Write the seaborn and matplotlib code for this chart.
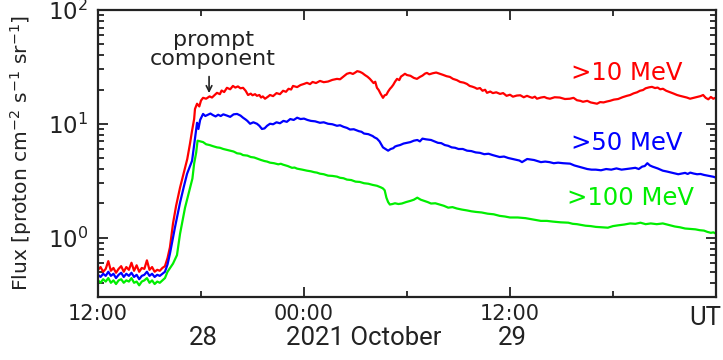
import matplotlib
matplotlib.use('Agg')
import matplotlib.pyplot as plt
import seaborn as sns
import numpy as np
import pandas as pd
from matplotlib.ticker import FixedLocator, LogLocator, NullFormatter

# ---------------- data (hours since 2021-10-28 12:00 UT, flux) ----------------
red_hours = [0.0, 0.15, 0.3, 0.45, 0.6, 0.75, 0.9, 1.05, 1.2, 1.35, 1.5, 1.65, 1.8, 1.95,
             2.1, 2.25, 2.4, 2.55, 2.7, 2.85, 3.0, 3.15, 3.3, 3.45, 3.6, 3.75, 3.9,
             4.05, 4.19, 4.37, 4.55, 4.78, 5.07, 5.2, 5.36, 5.48, 5.6, 5.65, 5.77, 5.9,
             6.0, 6.12, 6.3, 6.5, 6.64, 6.8, 6.93, 7.1, 7.2, 7.35, 7.51, 7.7, 7.86, 8.0,
             8.15, 8.3, 8.45, 8.6, 8.74, 8.9, 9.0, 9.15, 9.26, 9.4, 9.5, 9.6, 9.73, 9.9,
             10.02, 10.2, 10.4, 10.6, 10.78, 10.95, 11.1, 11.25, 11.36, 11.6, 11.8, 12.0,
             12.17, 12.35, 12.5, 12.7, 12.93, 13.15, 13.4, 13.65, 13.92, 14.1, 14.3, 14.5,
             14.68, 14.85, 15.0, 15.1, 15.26, 15.4, 15.55, 15.7, 15.84, 16.05, 16.15, 16.25,
             16.35, 16.45, 16.6, 16.7, 16.8, 16.9, 17.01, 17.1, 17.2, 17.3, 17.42, 17.55,
             17.65, 17.75, 17.88, 18.0, 18.2, 18.4, 18.58, 18.75, 18.9, 19.05, 19.16, 19.3,
             19.5, 19.7, 19.92, 20.1, 20.3, 20.5, 20.68, 20.9, 21.1, 21.3, 21.49, 21.65,
             21.8, 21.95, 22.08, 22.25, 22.4, 22.55, 22.66, 22.85, 23.0, 23.2, 23.42, 23.6,
             23.8, 24.0, 24.17, 24.4, 24.6, 24.8, 24.99, 25.15, 25.3, 25.45, 25.57, 25.8,
             26.0, 26.15, 26.33, 26.6, 26.9, 27.2, 27.49, 27.7, 27.9, 28.1, 28.25, 28.5,
             28.7, 28.9, 29.07, 29.25, 29.45, 29.65, 29.82, 30.05, 30.3, 30.55, 30.81, 31.0,
             31.2, 31.4, 31.57, 31.75, 31.9, 32.1, 32.27, 32.45, 32.6, 32.75, 32.91, 33.1,
             33.3, 33.5, 33.73, 33.9, 34.1, 34.3, 34.49, 34.7, 34.9, 35.1, 35.25, 35.4,
             35.55, 35.7, 35.84, 36.0]
red_flux = [0.52, 0.55, 0.50, 0.53, 0.62, 0.51, 0.54, 0.49, 0.53, 0.56, 0.50, 0.55, 0.52, 0.60,
            0.51, 0.57, 0.50, 0.54, 0.53, 0.63, 0.52, 0.55, 0.50, 0.52, 0.51, 0.54, 0.56,
            0.66, 0.82, 1.33, 1.9, 2.75, 4.1, 4.9, 6.7, 8.7, 11.0, 13.5, 15.0, 14.2,
            16.0, 16.9, 16.6, 17.4, 17.0, 17.9, 18.7, 18.2, 19.6, 19.0, 20.7, 20.1, 21.5, 20.8,
            21.3, 20.5, 20.7, 19.5, 17.9, 18.4, 17.8, 18.2, 17.6, 17.9, 17.0, 17.4, 16.6, 17.3,
            17.9, 17.5, 18.6, 18.2, 19.5, 19.1, 20.3, 20.0, 21.5, 21.0, 21.9, 22.4,
            22.9, 22.3, 23.3, 22.8, 23.8, 23.2, 23.5, 24.3, 24.8, 24.6, 26.0, 27.5,
            28.0, 27.4, 28.3, 29.0, 28.6, 27.9, 26.8, 25.9, 24.8, 22.8, 23.4, 20.7,
            19.8, 18.5, 16.9, 17.8, 18.0, 19.2, 20.3, 21.0, 22.0, 23.4, 24.8, 24.2,
            26.0, 26.6, 27.5, 26.8, 26.4, 25.3, 24.8, 25.8, 26.5, 27.6, 28.0, 27.2,
            27.8, 28.2, 27.5, 26.9, 26.2, 25.8, 24.8, 24.2, 23.3, 23.0, 22.4, 21.5,
            21.2, 20.8, 20.3, 20.6, 19.5, 19.9, 18.7, 19.2, 18.6, 18.9, 18.3, 18.6,
            17.6, 18.0, 17.3, 17.7, 17.8, 17.1, 17.6, 17.2, 16.9, 17.3, 16.6, 17.0,
            17.2, 16.8, 16.6, 17.1, 17.0, 16.5, 16.6, 16.9, 16.1, 15.9, 15.6, 15.9,
            15.4, 15.2, 15.0, 15.5, 15.4, 15.7, 15.9, 16.3, 16.5, 17.1, 17.6, 17.9,
            18.5, 18.9, 19.5, 19.8, 20.5, 20.9, 21.1, 20.6, 20.8, 20.1, 20.3, 19.5,
            19.0, 18.5, 17.9, 17.6, 17.3, 17.0, 16.6, 16.9, 17.2, 17.5, 17.9, 16.9,
            16.4, 17.2, 16.6, 17.0]

blue_hours = [0.0, 0.15, 0.3, 0.45, 0.6, 0.75, 0.9, 1.05, 1.2, 1.35, 1.5, 1.65, 1.8, 1.95,
              2.1, 2.25, 2.4, 2.55, 2.7, 2.85, 3.0, 3.15, 3.3, 3.45, 3.6, 3.75, 3.9,
              4.05, 4.19, 4.48, 4.78, 5.0, 5.19, 5.48, 5.6, 5.7, 5.77, 5.85, 5.95,
              6.12, 6.25, 6.4, 6.55, 6.7, 6.85, 7.0, 7.15, 7.3, 7.51, 7.7, 7.9, 8.1, 8.3,
              8.45, 8.6, 8.7, 8.86, 9.05, 9.26, 9.4, 9.55, 9.7, 9.85, 10.02, 10.2, 10.4,
              10.6, 10.8, 11.0, 11.2, 11.4, 11.6, 11.8, 12.0, 12.2, 12.4, 12.65, 12.93,
              13.15, 13.4, 13.65, 13.92, 14.1, 14.3, 14.5, 14.68, 14.9, 15.2, 15.35, 15.5,
              15.75, 16.0, 16.1, 16.25, 16.4, 16.5, 16.6, 16.75, 16.9, 17.05, 17.2, 17.3,
              17.42, 17.6, 17.8, 18.0, 18.2, 18.4, 18.6, 18.75, 18.9, 19.1, 19.4, 19.6,
              19.8, 20.0, 20.2, 20.4, 20.6, 20.8, 21.0, 21.25, 21.5, 21.75, 22.0, 22.25,
              22.5, 22.75, 23.0, 23.2, 23.4, 23.65, 23.9, 24.15, 24.4, 24.55, 24.7, 24.85,
              25.0, 25.2, 25.4, 25.6, 25.8, 26.05, 26.3, 26.55, 26.8, 27.1, 27.5, 27.75,
              28.0, 28.25, 28.5, 28.75, 29.0, 29.3, 29.6, 29.9, 30.2, 30.5, 30.8, 31.05,
              31.3, 31.5, 31.7, 31.85, 32.0, 32.15, 32.3, 32.6, 32.9, 33.15, 33.4, 33.6,
              33.8, 34.0, 34.2, 34.35, 34.5, 34.7, 34.9, 35.1, 35.3, 35.5, 35.7, 35.85, 36.0]
blue_flux = [0.47, 0.45, 0.48, 0.46, 0.50, 0.46, 0.48, 0.44, 0.47, 0.49, 0.45, 0.48, 0.46, 0.49,
             0.45, 0.47, 0.43, 0.46, 0.47, 0.50, 0.46, 0.48, 0.45, 0.47, 0.46, 0.48, 0.50,
             0.58, 0.72, 1.22, 2.03, 2.8, 3.64, 4.73, 6.5, 8.5, 10.2, 9.0, 10.8,
             12.2, 11.7, 12.0, 12.3, 11.9, 11.6, 12.0, 11.7, 12.1, 11.8, 11.5, 12.1, 12.2, 11.8,
             11.3, 10.9, 10.6, 10.0, 10.3, 10.0, 9.6, 9.0, 9.1, 9.6, 10.0, 9.9, 10.3,
             10.1, 10.6, 10.4, 11.0, 10.8, 11.3, 11.0, 11.1, 10.8, 10.6, 10.5, 10.2,
             10.3, 10.0, 9.9, 9.6, 9.7, 9.4, 9.2, 8.9, 8.95, 8.6, 8.5, 8.2,
             8.1, 7.8, 7.6, 7.4, 7.0, 6.6, 6.2, 6.0, 5.8, 6.0, 6.1, 6.3,
             6.4, 6.5, 6.7, 6.8, 6.9, 7.1, 7.2, 7.0, 7.4, 7.3, 7.2, 7.0,
             6.8, 6.75, 6.5, 6.4, 6.2, 6.15, 6.0, 6.0, 5.8, 5.75, 5.6, 5.55,
             5.4, 5.45, 5.3, 5.2, 5.1, 5.15, 5.0, 4.9, 4.8, 4.75, 4.6, 4.75,
             4.9, 4.85, 4.8, 4.7, 4.6, 4.65, 4.6, 4.5, 4.55, 4.5, 4.46, 4.3,
             4.2, 4.1, 4.0, 3.95, 3.95, 3.9, 4.0, 3.95, 4.05, 3.95, 4.0, 4.05,
             4.1, 4.0, 4.2, 4.25, 4.5, 4.3, 4.2, 4.05, 3.87, 3.8, 3.72, 3.65,
             3.6, 3.65, 3.7, 3.62, 3.72, 3.65, 3.6, 3.62, 3.55, 3.5, 3.45, 3.42, 3.36]

green_hours = [0.0, 0.15, 0.3, 0.45, 0.6, 0.75, 0.9, 1.05, 1.2, 1.35, 1.5, 1.65, 1.8, 1.95,
               2.1, 2.25, 2.4, 2.55, 2.7, 2.85, 3.0, 3.15, 3.3, 3.45, 3.6, 3.75, 3.9,
               4.05, 4.37, 4.6, 4.78, 5.07, 5.36, 5.5, 5.6, 5.72, 5.8, 5.95,
               6.12, 6.3, 6.5, 6.7, 6.93, 7.1, 7.3, 7.5, 7.7, 7.9, 8.1, 8.3, 8.45, 8.7,
               8.9, 9.1, 9.26, 9.5, 9.7, 9.85, 10.02, 10.25, 10.5, 10.65, 10.78, 11.05,
               11.3, 11.45, 11.6, 11.9, 12.17, 12.4, 12.6, 12.75, 12.93, 13.15, 13.4, 13.65,
               13.92, 14.1, 14.3, 14.5, 14.75, 15.0, 15.25, 15.5, 15.75, 16.0, 16.25, 16.5,
               16.6, 16.7, 16.8, 16.9, 17.0, 17.15, 17.3, 17.5, 17.7, 17.95, 18.2, 18.4,
               18.6, 18.8, 19.0, 19.2, 19.4, 19.65, 19.9, 20.15, 20.4, 20.65, 20.9, 21.2,
               21.5, 21.75, 22.0, 22.35, 22.7, 23.05, 23.4, 23.7, 24.0, 24.45, 24.9, 25.35,
               25.8, 26.15, 26.5, 26.95, 27.4, 27.65, 27.9, 28.15, 28.4, 28.7, 29.0, 29.35,
               29.7, 30.0, 30.3, 30.65, 31.0, 31.3, 31.6, 31.9, 32.2, 32.55, 32.9, 33.25,
               33.6, 33.9, 34.2, 34.5, 34.8, 35.05, 35.3, 35.5, 35.7, 35.85, 36.0]
green_flux = [0.42, 0.40, 0.43, 0.41, 0.44, 0.40, 0.42, 0.39, 0.42, 0.43, 0.40, 0.42, 0.41, 0.44,
              0.40, 0.41, 0.38, 0.41, 0.42, 0.44, 0.40, 0.42, 0.39, 0.41, 0.40, 0.42, 0.44,
              0.50, 0.59, 0.70, 1.08, 1.83, 2.74, 3.3, 4.46, 5.6, 7.1, 7.0,
              6.9, 6.6, 6.5, 6.35, 6.2, 6.15, 6.0, 5.9, 5.8, 5.7, 5.5, 5.45, 5.3, 5.25,
              5.1, 5.05, 4.95, 4.8, 4.7, 4.65, 4.55, 4.5, 4.4, 4.45, 4.37, 4.25,
              4.1, 4.12, 4.03, 3.95, 3.87, 3.82, 3.75, 3.72, 3.64, 3.6, 3.5, 3.48,
              3.43, 3.35, 3.32, 3.23, 3.2, 3.1, 3.08, 3.0, 2.97, 2.9, 2.85, 2.75,
              2.7, 2.6, 2.24, 2.05, 1.95, 1.97, 2.0, 1.97, 1.99, 2.05, 2.1, 2.15,
              2.24, 2.15, 2.1, 2.05, 1.99, 2.0, 1.95, 1.9, 1.83, 1.85, 1.8, 1.76,
              1.73, 1.7, 1.68, 1.66, 1.62, 1.6, 1.55, 1.53, 1.50, 1.50, 1.48, 1.44,
              1.40, 1.40, 1.38, 1.36, 1.35, 1.32, 1.31, 1.29, 1.27, 1.26, 1.24, 1.23,
              1.22, 1.26, 1.28, 1.30, 1.33, 1.32, 1.35, 1.31, 1.33, 1.31, 1.33, 1.29,
              1.25, 1.23, 1.20, 1.19, 1.18, 1.16, 1.15, 1.12, 1.10, 1.11, 1.08]

series_labels = ['>10 MeV', '>50 MeV', '>100 MeV']
series_colors = ['#ff0000', '#0000ff', '#00ee00']

major_hours = [0, 12, 24]
major_labels = ['12:00', '00:00', '12:00']
minor_hours = [6, 18, 30]
date_labels = ['28', '2021 October', '29']

# ---------------- figure ----------------
sns.set_style('ticks')
plt.rcParams['font.family'] = ['DejaVu Sans']
plt.rcParams['mathtext.fontset'] = 'dejavusans'

W, H = 723, 360
fig = plt.figure(figsize=(W / 100, H / 100), dpi=100)
L, R, T, B = 98, 716, 10, 297
ax = fig.add_axes([L / W, 1 - B / H, (R - L) / W, (B - T) / H])

for hrs, flx, col in [(red_hours, red_flux, series_colors[0]),
                      (blue_hours, blue_flux, series_colors[1]),
                      (green_hours, green_flux, series_colors[2])]:
    df = pd.DataFrame({'hours': hrs, 'flux': flx})
    sns.lineplot(data=df, x='hours', y='flux', color=col, linewidth=1.6, ax=ax,
                 estimator=None, sort=False)

ax.set_yscale('log')
ax.set_ylim(0.30, 100)
ax.set_xlim(0, 36)

ax.xaxis.set_major_locator(FixedLocator(major_hours))
ax.set_xticklabels(major_labels)
ax.xaxis.set_minor_locator(FixedLocator(minor_hours))
ax.yaxis.set_minor_locator(LogLocator(base=10, subs=np.arange(2, 10)))
ax.yaxis.set_minor_formatter(NullFormatter())

ax.tick_params(which='both', direction='in', top=True, right=True, width=1.3,
               color='#222222')
ax.tick_params(which='major', length=7, labelcolor='#222222')
ax.tick_params(axis='x', which='major', labelsize=15, pad=5)
ax.tick_params(axis='y', which='major', labelsize=16.5, pad=7)
ax.tick_params(which='minor', length=4)
for s in ax.spines.values():
    s.set_linewidth(1.6)
    s.set_color('#222222')

ax.set_xlabel('')
ax.set_ylabel(r'Flux [proton cm$^{-2}$ s$^{-1}$ sr$^{-1}$]', fontsize=14.6, color='#222222')
ax.yaxis.set_label_coords((34 - L) / (R - L), 0.5)

# series labels
label_pos = [(30.8, 28.0), (30.8, 6.8), (31.0, 2.24)]
for (lx, ly), txt, col in zip(label_pos, series_labels, series_colors):
    ax.text(lx, ly, txt, color=col, fontsize=17.5, ha='center', va='center')

# prompt component annotation
ax.text(6.7, 45, 'prompt\ncomponent', fontsize=16, ha='center', va='center',
        color='#222222', linespacing=0.92)
ax.annotate('', xy=(6.47, 18.6), xytext=(6.47, 26.0),
            arrowprops=dict(arrowstyle='->', color='#222222', lw=1.2,
                            shrinkA=0, shrinkB=0, mutation_scale=10))

# date row and UT
narrow = ['Roboto', 'DejaVu Sans']
for xp, txt in zip([203, 364, 512], date_labels):
    fig.text(xp / W, 1 - 338 / H, txt, fontsize=18.5, family=narrow,
             ha='center', va='center', color='#222222')
fig.text(705 / W, 1 - 318 / H, 'UT', fontsize=18.5, family=narrow,
         ha='center', va='center', color='#222222')

fig.savefig('out.png', dpi=100)
